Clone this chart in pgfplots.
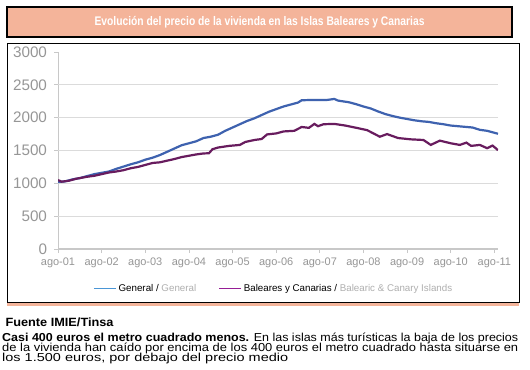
\documentclass[border=0pt]{standalone}
\usepackage{pgfplots}
\pgfplotsset{compat=1.18}
\usepackage{fontspec}
\setmainfont{Liberation Sans}
\usepackage{graphicx}
\definecolor{salmon}{RGB}{244,180,154}
\definecolor{genblue}{RGB}{62,98,175}
\definecolor{balpurp}{RGB}{104,28,94}
\definecolor{leggen}{RGB}{74,150,214}
\definecolor{legbal}{RGB}{150,30,150}
\definecolor{ticktext}{RGB}{150,150,150}
\definecolor{axisgray}{RGB}{200,200,200}
\definecolor{gridgray}{RGB}{219,219,219}
\definecolor{leggray}{RGB}{175,175,175}

\pgfplotstableread{
m v
0 1020
2 1030
4 1060
6 1080
8 1110
10 1140
12 1160
14 1180
16 1220
18 1255
20 1290
22 1320
24 1360
26 1390
28 1430
30 1480
32 1530
34 1580
36 1610
38 1640
40 1690
42 1710
44 1740
46 1800
48 1850
50 1900
52 1950
54 1990
56 2040
58 2090
60 2130
62 2170
64 2200
66 2230
67 2265
70 2270
74 2270
76 2285
77 2260
79 2243
80 2235
82 2205
84 2170
86 2140
88 2095
90 2055
92 2025
94 2000
96 1980
98 1960
100 1945
102 1935
104 1915
106 1900
108 1880
110 1870
112 1860
114 1850
116 1815
118 1800
120 1770
121 1755
}\general

\pgfplotstableread{
m v
0 1050
1 1025
3 1040
5 1070
8 1100
10 1115
12 1140
14 1165
16 1180
18 1200
20 1230
22 1250
24 1280
26 1310
28 1320
30 1345
32 1370
34 1400
36 1420
38 1440
40 1455
41.5 1458
42.5 1520
44 1545
47 1570
50 1585
51.5 1630
54 1660
56 1675
57.5 1745
60 1760
62 1790
65 1800
67 1858
69 1845
70.5 1905
71.5 1870
73 1900
76 1905
79 1880
82.5 1840
85 1810
88.5 1710
90.5 1750
93.5 1690
97 1670
100.5 1660
102.5 1585
105 1650
108 1610
110.5 1585
112.3 1620
113.6 1570
116 1585
118 1535
119.5 1575
121 1505
}\baleares

\begin{document}
\begin{tikzpicture}[x=1bp,y=1bp]
\path[use as bounding box] (0,0) rectangle (530,369);
\fill[salmon] (7,63) rectangle (519,67);
\draw[black, line width=1bp, fill=white] (7,67) rectangle (519,326);
\draw[black, line width=1.2bp, fill=salmon] (7,332) rectangle (512,362);
\node[text=white, font=\bfseries\fontsize{12.5}{14}\selectfont] at (259.5,347) {\resizebox{330bp}{\height}{Evolución del precio de la vivienda en las Islas Baleares y Canarias}};

\begin{axis}[
  at={(58bp,120bp)}, anchor=south west,
  scale only axis, width=440bp, height=197bp,
  xmin=0, xmax=121, ymin=0, ymax=3000,
  axis x line*=bottom, axis y line*=left, tick pos=left,
  x axis line style={axisgray, line width=1.8bp},
  y axis line style={axisgray, line width=1bp},
  xtick={0,12,...,120},
  xticklabels={ago-01,ago-02,ago-03,ago-04,ago-05,ago-06,ago-07,ago-08,ago-09,ago-10,ago-11},
  ytick={0,500,...,3000},
  tick align=outside, major tick length=4bp,
  tick style={axisgray, line width=0.8bp},
  /pgf/number format/assume math mode=true,
  /pgf/number format/1000 sep={},
  xticklabel style={font=\fontsize{11}{13}\selectfont, text=ticktext, yshift=-1bp},
  yticklabel style={font=\fontsize{15.3}{17}\selectfont, text=ticktext, xshift=-3.5bp},
  extra y ticks={500,1000,1500,2000,2500},
  extra y tick labels={},
  extra y tick style={grid=major, major grid style={gridgray, line width=1bp}, major tick length=0pt},
  legend image code/.code={\draw[#1] (0bp,0bp) -- (22bp,0bp);},
  legend style={at={(0.49,-0.2)}, anchor=center, draw=none, fill=none,
    font=\fontsize{9.8}{12}\selectfont, legend columns=2,
    /tikz/every even column/.append style={column sep=20bp}},
  legend cell align=left,
]
\addplot[genblue, line width=2.2bp, forget plot] table[x=m, y=v] {\general};
\addplot[balpurp, line width=2.2bp, forget plot] table[x=m, y=v] {\baleares};
\addlegendimage{leggen, line width=1.6bp}
\addlegendentry{General / \textcolor{leggray}{General}}
\addlegendimage{legbal, line width=1.6bp}
\addlegendentry{Baleares y Canarias / \textcolor{leggray}{Balearic \& Canary Islands}}
\end{axis}

\node[anchor=base west, font=\bfseries\fontsize{12}{14}\selectfont] at (2,43) {\resizebox{108bp}{\height}{Fuente IMIE/Tinsa}};
\node[anchor=base west, inner sep=0pt, font=\fontsize{11.6}{13}\selectfont] at (2,28) {\resizebox{516bp}{\height}{\textbf{Casi 400 euros el metro cuadrado menos.} En las islas más turísticas la baja de los precios}};
\node[anchor=base west, inner sep=0pt, font=\fontsize{11.6}{13}\selectfont] at (2,17.7) {\resizebox{516bp}{\height}{de la vivienda han caído por encima de los 400 euros el metro cuadrado hasta situarse en}};
\node[anchor=base west, inner sep=0pt, font=\fontsize{11.6}{13}\selectfont] at (2,7.7) {\resizebox{286bp}{\height}{los 1.500 euros, por debajo del precio medio}};
\end{tikzpicture}
\end{document}
